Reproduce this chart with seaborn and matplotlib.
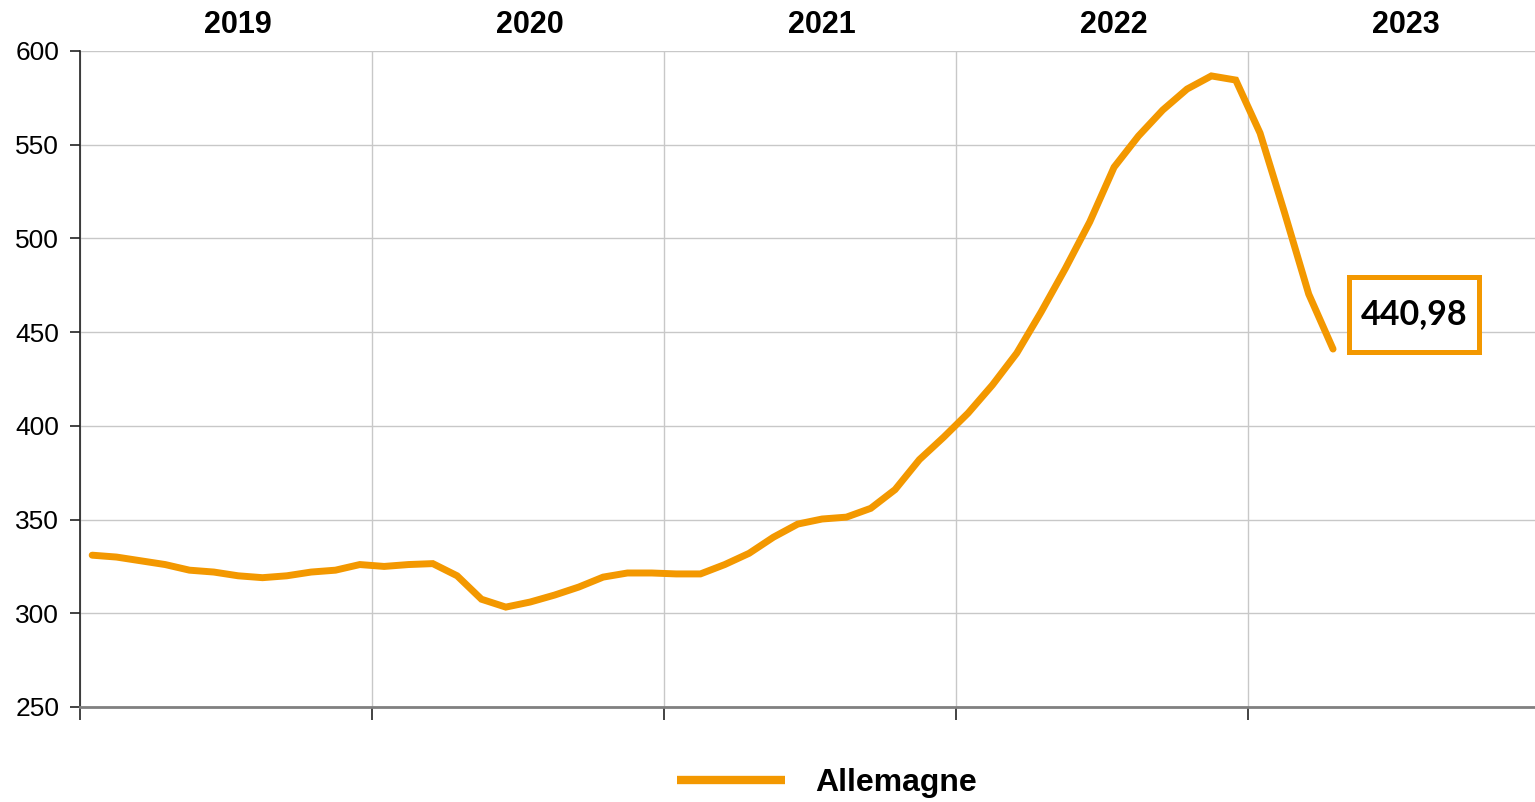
import matplotlib.pyplot as plt
from matplotlib.patches import Rectangle
import seaborn as sns
import pandas as pd
import numpy as np

sns.set_style("white")
plt.rcParams["text.color"] = "black"

# monthly values, Jan 2019 -> Apr 2023
months = pd.date_range("2019-01-01", "2023-04-01", freq="MS")
values = [331, 330, 328, 326, 323, 322, 320, 319, 320, 322, 323, 326,
          325, 326, 326.5, 320, 307.5, 303.3, 306, 309.7, 314, 319.3, 321.5, 321.5,
          321, 321, 326, 332, 340.6, 347.6, 350.3, 351.3, 356, 366, 382, 394,
          406.8, 421.8, 438.8, 460.7, 484, 508.8, 538, 554.6, 568.5, 579.7, 586.7, 584.5,
          556.2, 514, 470.3, 440.98]
years = ["2019", "2020", "2021", "2022", "2023"]
series_name = "Allemagne"
last_label = "440,98"

orange = "#F39800"

df = pd.DataFrame({"month": months, "value": values})
# position on the axis in months, centred in each month
df["pos"] = (df.month.dt.year - 2019) * 12 + df.month.dt.month - 1 + 0.5
df["serie"] = series_name

fig = plt.figure(figsize=(15.35, 8.02), dpi=100)
ax = fig.add_axes([80 / 1535, 1 - 707 / 802, 1455 / 1535, 656 / 802])

sns.lineplot(data=df, x="pos", y="value", hue="serie", palette=[orange],
             linewidth=5, ax=ax, legend=True)
ax.lines[0].set_solid_capstyle("round")
ax.lines[0].set_solid_joinstyle("miter")

ax.set_xlim(0, 59.8)
ax.set_ylim(250, 600)
ax.set_yticks(np.arange(250, 601, 50))
ax.set_xticks([12 * i for i in range(5)])
ax.set_xticklabels([])
ax.grid(True, color="#C8C8C8", linewidth=1)
ax.tick_params(axis="x", direction="out", length=9, width=1.2, color="#222222", bottom=True)
ax.tick_params(axis="y", direction="out", length=7, width=1.2, color="#222222", left=True,
               labelsize=19, pad=8, labelcolor="black")
for lab in ax.get_yticklabels():
    lab.set_fontfamily("Liberation Sans")

ax.spines["top"].set_visible(False)
ax.spines["right"].set_visible(False)
ax.spines["left"].set_color("#222222")
ax.spines["left"].set_linewidth(1.2)
ax.spines["bottom"].set_color("#808080")
ax.spines["bottom"].set_linewidth(2)
ax.set_xlabel("")
ax.set_ylabel("")

# year labels above the plot
for i, yr in enumerate(years):
    ax.text(12 * i + 6.5, 1.039, yr, transform=ax.get_xaxis_transform(),
            ha="center", va="center", fontsize=22, fontweight="bold",
            family="Liberation Sans")

# last value box, sitting on the last point
x_last = df.pos.iloc[-1]
y_last = df.value.iloc[-1]
box = Rectangle((x_last + 0.66, y_last - 1.5), 5.34, 40, facecolor="white",
                edgecolor=orange, linewidth=3.6, zorder=5)
ax.add_patch(box)
ax.text(x_last + 0.66 + 5.34 / 2, y_last + 18.5, last_label, ha="center", va="center",
        fontsize=24.5, fontweight="bold", family="Lato", zorder=6)

ax.legend(loc="center", bbox_to_anchor=(827 / 1535, 1 - 783 / 802),
          bbox_transform=fig.transFigure, frameon=False, handlelength=3.4,
          handletextpad=0.95, prop={"family": "Liberation Sans", "weight": "bold", "size": 23})
leg = ax.get_legend()
leg.get_lines()[0].set_linewidth(6)
leg.get_lines()[0].set_solid_capstyle("butt")

fig.savefig("out.png", dpi=100)
